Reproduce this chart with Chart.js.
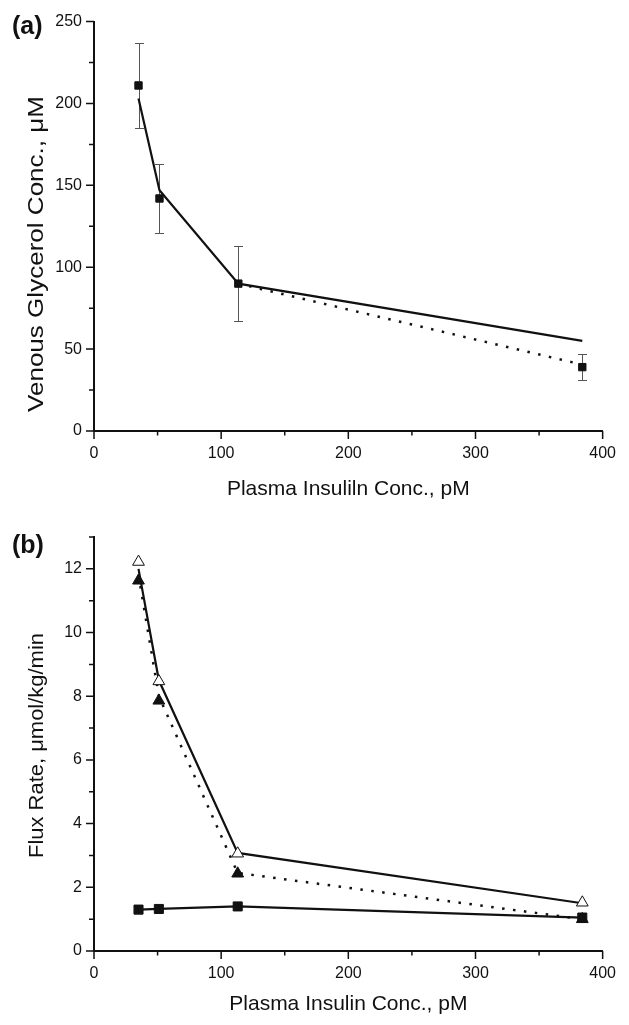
<!DOCTYPE html>
<html>
<head>
<meta charset="utf-8">
<script src="https://cdn.jsdelivr.net/npm/chart.js@4.4.1/dist/chart.umd.min.js"></script>
<style>
html, body { margin: 0; padding: 0; background: #fff; }
canvas { position: absolute; left: 0; }
#chartA { top: 0; }
#chartB { top: 510px; }
</style>
</head>
<body>
<canvas id="chartA" width="629" height="510"></canvas>
<canvas id="chartB" width="629" height="515"></canvas>
<script>
// panel (a): venous glycerol vs plasma insulin
const insulinA = [35, 51.5, 113.5, 384];
const glycerolMean = [211, 142, 90, 39];
const glycerolHigh = [237, 163, 113, 47];
const glycerolLow = [185, 121, 67, 31];
const glycerolModel = [203, 147, 90, 55];
const insulinDotted = [113.5, 384];
const glycerolDotted = [90, 40.5];

// panel (b): flux rates
const insulinB = [35, 51, 113, 384];
const fluxOpen = [12.22, 8.47, 3.06, 1.52];
const fluxOpenLine = [12.0, 8.5, 3.08, 1.5];
const fluxFilled = [11.63, 7.86, 2.43, 1.0];
const fluxFilledLine = [11.8, 8.0, 2.45, 1.0];
const fluxSquare = [1.3, 1.32, 1.4, 1.05];

// axis ranges / ticks
const xRange = [0, 400];
const xStep = 50, xMajor = 100;
const yRangeA = [0, 250];
const yStepA = 25, yMajorA = 50;
const yRangeB = [0, 13];
const yStepB = 1, yMajorB = 2;

const INK = '#111';
const FONT = '"Liberation Sans", Arial, sans-serif';

function pts(xs, ys) {
    return xs.map((x, i) => ({ x: x, y: ys[i] }));
}

// error bars drawn through the scales
const errorBars = {
    id: 'errorBars',
    beforeDatasetsDraw(chart) {
        const ctx = chart.ctx, xs = chart.scales.x, ys = chart.scales.y;
        chart.data.datasets.forEach(ds => {
            if (!ds.errHigh) return;
            ctx.save();
            ctx.strokeStyle = '#555';
            ctx.lineWidth = 1;
            ds.data.forEach((p, i) => {
                const px = Math.round(xs.getPixelForValue(p.x)) + 0.5;
                const top = Math.round(ys.getPixelForValue(ds.errHigh[i])) + 0.5;
                const bot = Math.round(ys.getPixelForValue(ds.errLow[i])) + 0.5;
                ctx.beginPath();
                ctx.moveTo(px, top); ctx.lineTo(px, bot);
                ctx.moveTo(px - 4.5, top); ctx.lineTo(px + 4.5, top);
                ctx.moveTo(px - 4.5, bot); ctx.lineTo(px + 4.5, bot);
                ctx.stroke();
            });
            ctx.restore();
        });
    }
};

// outward major/minor tick marks
const tickMarks = {
    id: 'tickMarks',
    afterDraw(chart, args, opts) {
        const ctx = chart.ctx, xs = chart.scales.x, ys = chart.scales.y;
        ctx.save();
        ctx.strokeStyle = INK;
        ctx.lineWidth = 1.5;
        ctx.beginPath();
        xs.ticks.forEach(t => {
            const px = xs.getPixelForValue(t.value);
            const len = t.value % opts.xMajor === 0 ? 8 : 4.5;
            ctx.moveTo(px, xs.top); ctx.lineTo(px, xs.top + len);
        });
        ys.ticks.forEach(t => {
            const py = ys.getPixelForValue(t.value);
            const len = t.value % opts.yMajor === 0 ? 8 : 5;
            ctx.moveTo(ys.right, py); ctx.lineTo(ys.right - len, py);
        });
        ctx.stroke();
        ctx.restore();
    }
};

// panel letter and axis titles
const panelText = {
    id: 'panelText',
    afterDraw(chart, args, o) {
        const ctx = chart.ctx, area = chart.chartArea;
        ctx.save();
        ctx.fillStyle = INK;
        ctx.font = 'bold 25px ' + FONT;
        ctx.textAlign = 'left';
        ctx.textBaseline = 'middle';
        ctx.fillText(o.label, 12, o.labelY);

        ctx.font = '21px ' + FONT;
        ctx.textAlign = 'center';
        ctx.textBaseline = 'alphabetic';
        ctx.fillText(o.xTitle, (area.left + area.right) / 2, o.xTitleY);

        ctx.translate(43, o.yTitleY);
        ctx.rotate(-Math.PI / 2);
        ctx.font = o.yTitleSize + 'px ' + FONT;
        const w = ctx.measureText(o.yTitle).width;
        if (o.yTitleLen) ctx.scale(o.yTitleLen / w, 1);
        ctx.fillText(o.yTitle, 0, 0);
        ctx.restore();
    }
};

function scales(yRange, yStep, yMajor, xHeight) {
    return {
        x: {
            type: 'linear', min: xRange[0], max: xRange[1],
            grid: { display: false, drawTicks: false },
            border: { display: true, color: INK, width: 2 },
            ticks: {
                stepSize: xStep, autoSkip: false, maxRotation: 0, padding: 13,
                color: INK, font: { family: FONT, size: 16 },
                callback: v => (v % xMajor === 0 ? v : '')
            },
            afterFit: s => { s.height = xHeight; }
        },
        y: {
            type: 'linear', min: yRange[0], max: yRange[1],
            grid: { display: false, drawTicks: false },
            border: { display: true, color: INK, width: 2 },
            ticks: {
                stepSize: yStep, autoSkip: false, padding: 12,
                color: INK, font: { family: FONT, size: 16 },
                callback: v => (v % yMajor === 0 ? v : '')
            },
            afterFit: s => { s.width = 94; }
        }
    };
}

const baseOpts = {
    responsive: false,
    animation: false,
    devicePixelRatio: 1,
    plugins: { legend: { display: false }, tooltip: { enabled: false } }
};

new Chart(document.getElementById('chartA'), {
    type: 'scatter',
    data: {
        datasets: [
            {
                data: pts(insulinA, glycerolMean), errHigh: glycerolHigh, errLow: glycerolLow,
                pointStyle: 'rect', pointRadius: 5.2, backgroundColor: INK, borderColor: INK,
                borderWidth: 1, order: 0
            },
            {
                data: pts(insulinA, glycerolModel), showLine: true, pointRadius: 0,
                borderColor: INK, borderWidth: 2.2, order: 1
            },
            {
                data: pts(insulinDotted, glycerolDotted), showLine: true, pointRadius: 0,
                borderColor: INK, borderWidth: 2.5, borderDash: [2.5, 8.5], order: 2
            }
        ]
    },
    options: Object.assign({}, baseOpts, {
        layout: { padding: { left: 0, top: 19, right: 25, bottom: 0 } },
        scales: scales(yRangeA, yStepA, yMajorA, 79),
        plugins: Object.assign({}, baseOpts.plugins, {
            tickMarks: { xMajor: xMajor, yMajor: yMajorA },
            panelText: {
                label: '(a)', labelY: 27,
                xTitle: 'Plasma Insuliln Conc., pM', xTitleY: 495,
                yTitle: 'Venous Glycerol Conc., \u03bcM', yTitleY: 254, yTitleSize: 22, yTitleLen: 316
            }
        })
    }),
    plugins: [errorBars, tickMarks, panelText]
});

new Chart(document.getElementById('chartB'), {
    type: 'scatter',
    data: {
        datasets: [
            {
                data: pts(insulinB, fluxSquare), showLine: true,
                pointStyle: 'rect', pointRadius: 6.4, backgroundColor: INK, borderColor: INK,
                borderWidth: 2.2, pointBorderWidth: 1, order: 0
            },
            {
                data: pts(insulinB, fluxOpen),
                pointStyle: 'triangle', pointRadius: 6.8, backgroundColor: '#fff', borderColor: INK,
                borderWidth: 1, order: 0
            },
            {
                data: pts(insulinB, fluxFilled),
                pointStyle: 'triangle', pointRadius: 6.8, backgroundColor: INK, borderColor: INK,
                borderWidth: 1, order: 1
            },
            {
                data: pts(insulinB, fluxOpenLine), showLine: true, pointRadius: 0,
                borderColor: INK, borderWidth: 2.2, order: 2
            },
            {
                data: pts(insulinB, fluxFilledLine), showLine: true, pointRadius: 0,
                borderColor: INK, borderWidth: 2.5, borderDash: [2.5, 8.5], order: 3
            }
        ]
    },
    options: Object.assign({}, baseOpts, {
        layout: { padding: { left: 0, top: 27, right: 25, bottom: 0 } },
        scales: scales(yRangeB, yStepB, yMajorB, 74),
        plugins: Object.assign({}, baseOpts.plugins, {
            tickMarks: { xMajor: xMajor, yMajor: yMajorB },
            panelText: {
                label: '(b)', labelY: 36,
                xTitle: 'Plasma Insulin Conc., pM', xTitleY: 500,
                yTitle: 'Flux Rate, \u03bcmol/kg/min', yTitleY: 235.5, yTitleSize: 21, yTitleLen: 225
            }
        })
    }),
    plugins: [errorBars, tickMarks, panelText]
});
</script>
</body>
</html>
